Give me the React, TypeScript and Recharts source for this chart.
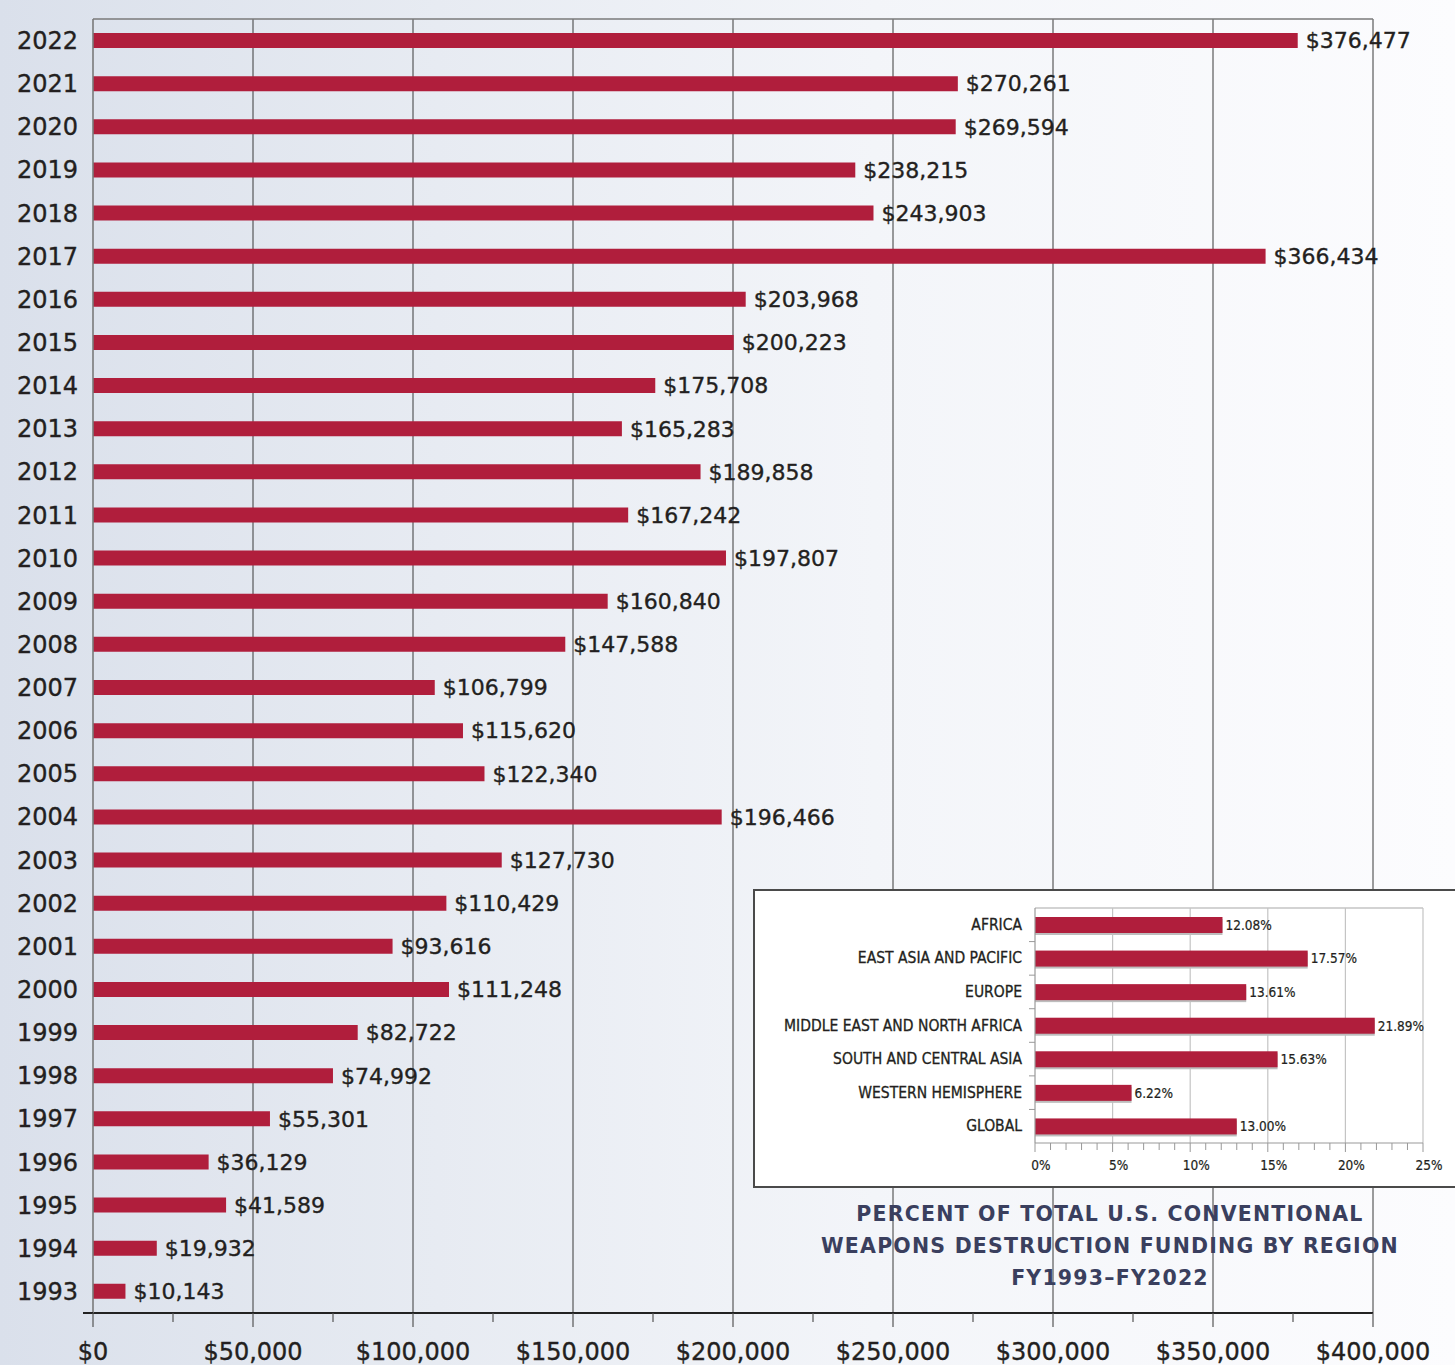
import React from 'react';
import {
  BarChart,
  Bar,
  XAxis,
  YAxis,
  CartesianGrid,
  LabelList,
} from 'recharts';

document.body.style.margin = '0';

// main chart data (thousands of dollars, FY)
const years = [
  '2022', '2021', '2020', '2019', '2018', '2017', '2016', '2015', '2014', '2013',
  '2012', '2011', '2010', '2009', '2008', '2007', '2006', '2005', '2004', '2003',
  '2002', '2001', '2000', '1999', '1998', '1997', '1996', '1995', '1994', '1993',
];
const funding = [
  376477, 270261, 269594, 238215, 243903, 366434, 203968, 200223, 175708, 165283,
  189858, 167242, 197807, 160840, 147588, 106799, 115620, 122340, 196466, 127730,
  110429, 93616, 111248, 82722, 74992, 55301, 36129, 41589, 19932, 10143,
];
const moneyTicks = [
  0, 25000, 50000, 75000, 100000, 125000, 150000, 175000, 200000, 225000,
  250000, 275000, 300000, 325000, 350000, 375000, 400000,
];
const moneyGrid = [50000, 100000, 150000, 200000, 250000, 300000, 350000, 400000];

// inset data
const regions = [
  'AFRICA',
  'EAST ASIA AND PACIFIC',
  'EUROPE',
  'MIDDLE EAST AND NORTH AFRICA',
  'SOUTH AND CENTRAL ASIA',
  'WESTERN HEMISPHERE',
  'GLOBAL',
];
const regionShare = [12.08, 17.57, 13.61, 21.89, 15.63, 6.22, 13.0];
const pctTicks = [
  0, 1, 2, 3, 4, 5, 6, 7, 8, 9, 10, 11, 12, 13, 14, 15, 16, 17, 18, 19, 20, 21, 22, 23, 24, 25,
];
const pctGrid = [5, 10, 15, 20, 25];

const titleLines = [
  'PERCENT OF TOTAL U.S. CONVENTIONAL',
  'WEAPONS DESTRUCTION FUNDING BY REGION',
  'FY1993–FY2022',
];

const colors = {
  bar: '#b01e3c',
  text: '#231f20',
  grid: '#3a3a3a',
  frame: '#7a7a7a',
  title: '#3a3f5e',
  insetGrid: '#c4c4c4',
};

const FONT = "'DejaVu Sans', sans-serif";
const NARROW = "'DejaVu Sans Condensed', 'Liberation Sans Narrow', 'DejaVu Sans', sans-serif";

const W = 1455;
const H = 1365;
const PLOT_TOP = 19;
const AXIS_Y = 1313;

const mainData = years.map((year, i) => ({ year, value: funding[i] }));
const insetData = regions.map((region, i) => ({ region, value: regionShare[i] }));

const money = (v: number) => '$' + v.toLocaleString('en-US');

// a hair of stroke to get closer to the medium weight of the original type
const heavy = { stroke: colors.text, strokeWidth: 0.35 };

const BottomTick = (props: any) => {
  const { x, payload } = props;
  const major = payload.value % 50000 === 0;
  return (
    <g>
      {payload.value === 0 && (
        <line x1={x - 10} x2={x} y1={AXIS_Y} y2={AXIS_Y} stroke="#222" strokeWidth={2} />
      )}
      <line x1={x} x2={x} y1={AXIS_Y} y2={AXIS_Y + (major ? 14 : 9)} stroke="#555" strokeWidth={1.2} />
      {major && (
        <text x={x} y={AXIS_Y + 47} textAnchor="middle" fontSize={24} fill={colors.text} fontFamily={FONT} {...heavy}>
          {money(payload.value)}
        </text>
      )}
    </g>
  );
};

const TopTick = (props: any) => {
  const { x, payload } = props;
  if (payload.value % 50000 === 0) return <g />;
  return <line x1={x} x2={x} y1={PLOT_TOP} y2={PLOT_TOP + 8} stroke="#555" strokeWidth={1.2} />;
};

// inset geometry
const INSET_W = 700;
const INSET_H = 295;
const INSET_TOP = 17;
const INSET_AXIS = 252;

const PctTick = (props: any) => {
  const { x, payload } = props;
  const major = payload.value % 5 === 0;
  return (
    <g>
      <line x1={x} x2={x} y1={INSET_AXIS} y2={INSET_AXIS + (major ? 9 : 7)} stroke="#999" />
      {major && (
        <text
          x={x + 6}
          y={INSET_AXIS + 27}
          textAnchor="middle"
          fontSize={13.5}
          fill={colors.text}
          fontFamily={NARROW}
          stroke={colors.text}
          strokeWidth={0.2}
          style={{ fontStretch: 'condensed' }}
        >
          {payload.value + '%'}
        </text>
      )}
    </g>
  );
};

const RegionTick = (props: any) => {
  const { x, y, payload, index } = props;
  const axisX = x + 13;
  return (
    <g>
      <text
        x={x}
        y={y}
        dy={5}
        textAnchor="end"
        fontSize={15.5}
        fill={colors.text}
        fontFamily={NARROW}
        stroke={colors.text}
        strokeWidth={0.3}
        style={{ fontStretch: 'condensed' }}
      >
        {payload.value}
      </text>
      {index < regions.length - 1 && (
        <line x1={axisX - 6} x2={axisX} y1={y + 16.8} y2={y + 16.8} stroke="#999" />
      )}
    </g>
  );
};

const ShadowBar = (props: any) => {
  const { x, y, width, height } = props;
  return (
    <g>
      <rect x={x} y={y + 2} width={width} height={height} fill="#bdbdbd" />
      <rect x={x} y={y} width={width} height={height} fill={colors.bar} />
    </g>
  );
};

function RegionInset() {
  return (
    <div
      style={{
        position: 'absolute',
        left: 753,
        top: 889,
        width: 702,
        height: 299,
        boxSizing: 'border-box',
        background: '#fff',
        borderTop: '2px solid #4a4a4a',
        borderLeft: '2px solid #4a4a4a',
        borderBottom: '2px solid #4a4a4a',
      }}
    >
      <BarChart
        width={INSET_W}
        height={INSET_H}
        data={insetData}
        layout="vertical"
        margin={{ top: 0, right: 32, left: 0, bottom: 0 }}
        barCategoryGap={0}
      >
        <CartesianGrid horizontal={false} verticalValues={pctGrid} stroke={colors.insetGrid} strokeWidth={1.2} />
        <XAxis
          type="number"
          domain={[0, 25]}
          ticks={pctTicks}
          interval={0}
          height={INSET_H - INSET_AXIS}
          axisLine={{ stroke: '#999', strokeWidth: 1.2 }}
          tickLine={false}
          tick={<PctTick />}
        />
        <XAxis
          xAxisId="top"
          orientation="top"
          type="number"
          domain={[0, 25]}
          height={INSET_TOP}
          axisLine={{ stroke: colors.insetGrid, strokeWidth: 1.5 }}
          tickLine={false}
          tick={false}
        />
        <YAxis
          type="category"
          dataKey="region"
          width={280}
          interval={0}
          axisLine={{ stroke: '#999', strokeWidth: 1.2 }}
          tickLine={false}
          tickSize={0}
          tickMargin={13}
          tick={<RegionTick />}
        />
        <Bar dataKey="value" barSize={16} shape={<ShadowBar />} isAnimationActive={false}>
          <LabelList
            dataKey="value"
            position="right"
            offset={3}
            formatter={(v: any) => Number(v).toFixed(2) + '%'}
            style={{
              fontSize: 13.5,
              fill: colors.text,
              stroke: colors.text,
              strokeWidth: 0.2,
              fontFamily: NARROW,
              fontStretch: 'condensed',
            }}
          />
        </Bar>
      </BarChart>
    </div>
  );
}

export default function App() {
  return (
    <div
      style={{
        position: 'relative',
        width: W,
        height: H,
        overflow: 'hidden',
        background: 'linear-gradient(to right, #dae0eb 0%, #e7ebf2 30%, #f3f5f9 60%, #fcfcfe 100%)',
      }}
    >
      <div style={{ position: 'absolute', left: 0, top: 0 }}>
        <BarChart
          width={W}
          height={H}
          data={mainData}
          layout="vertical"
          margin={{ top: 0, right: 82, left: 0, bottom: 0 }}
        >
          <CartesianGrid horizontal={false} verticalValues={moneyGrid} stroke={colors.grid} strokeWidth={1} />
          <XAxis
            type="number"
            domain={[0, 400000]}
            ticks={moneyTicks}
            interval={0}
            height={H - AXIS_Y}
            axisLine={{ stroke: '#222', strokeWidth: 2 }}
            tickLine={false}
            tick={<BottomTick />}
          />
          <XAxis
            xAxisId="top"
            orientation="top"
            type="number"
            domain={[0, 400000]}
            ticks={moneyTicks}
            interval={0}
            height={PLOT_TOP}
            axisLine={{ stroke: colors.frame, strokeWidth: 1.6 }}
            tickLine={false}
            tick={<TopTick />}
          />
          <YAxis
            type="category"
            dataKey="year"
            width={93}
            interval={0}
            axisLine={{ stroke: colors.frame, strokeWidth: 1.6 }}
            tickLine={false}
            tickSize={0}
            tickMargin={15}
            tick={{ fontSize: 24, fill: colors.text, fontFamily: FONT, ...heavy }}
          />
          <Bar dataKey="value" fill={colors.bar} barSize={15} isAnimationActive={false}>
            <LabelList
              dataKey="value"
              position="right"
              offset={8}
              formatter={(v: any) => money(Number(v))}
              style={{ fontSize: 22, fill: colors.text, fontFamily: FONT, ...heavy }}
            />
          </Bar>
        </BarChart>
      </div>
      <RegionInset />
      <div
        style={{
          position: 'absolute',
          left: 810,
          top: 1198,
          width: 600,
          textAlign: 'center',
          fontFamily: FONT,
          fontWeight: 'bold',
          fontSize: 20.5,
          lineHeight: '32px',
          letterSpacing: 1.2,
          color: colors.title,
        }}
      >
        {titleLines.map((t) => (
          <div key={t}>{t}</div>
        ))}
      </div>
    </div>
  );
}
